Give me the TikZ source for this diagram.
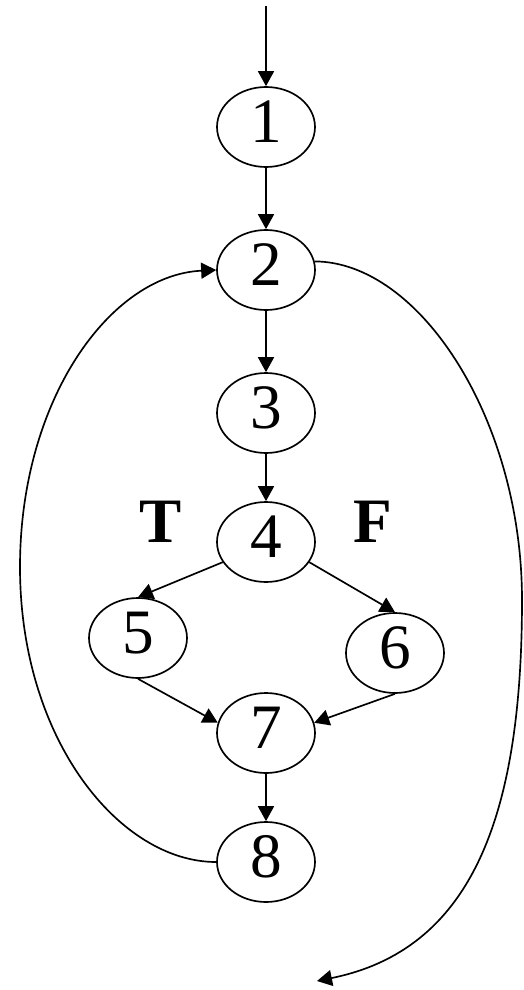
\documentclass[tikz,border=0pt]{standalone}
\usepackage{fontspec}
\setmainfont{Liberation Serif}
\usetikzlibrary{arrows.meta,shapes.geometric}

\begin{document}
\begin{tikzpicture}[>={Triangle[length=0.3cm,width=0.32cm]},line width=0.95pt,
  blk/.style={draw,ellipse,minimum width=1.96cm,minimum height=1.6cm,inner sep=0pt,
    font=\fontsize{36}{36}\selectfont,text height=0.86cm,text depth=0.24cm},
  lbl/.style={font=\fontsize{36}{36}\selectfont\bfseries,inner sep=0pt}]
  \useasboundingbox (0,0) rectangle (10.48,-19.8);
  % blocks
  \coordinate (entry) at (5.32,-0.12);
  \node[blk] (n1) at (5.32,-2.54) {1};
  \node[blk] (n2) at (5.32,-5.40) {2};
  \node[blk] (n3) at (5.32,-8.26) {3};
  \node[blk] (n4) at (5.32,-10.84) {4};
  \node[blk] (n5) at (2.76,-12.76) {5};
  \node[blk] (n6) at (7.90,-13.06) {6};
  \node[blk] (n7) at (5.32,-14.66) {7};
  \node[blk] (n8) at (5.32,-17.24) {8};
  \coordinate (exit) at (6.34,-19.62);
  \node[lbl,anchor=base east] (tl) at ([xshift=-0.68cm]n4.west) {T};
  \node[lbl,anchor=base west] (fl) at ([xshift=0.74cm]n4.east) {F};
  % edges
  \draw[->] (entry) -- (n1);
  \draw[->] (n1) -- (n2);
  \draw[->] (n2) -- (n3);
  \draw[->] (n3) -- (n4);
  \draw[->] (n4.-155) -- (n5.north);
  \draw[->] (n4.-25) -- (n6.north);
  \draw[->] (n5.south) -- (n7.168);
  \draw[->] (n6.south) -- (n7.12);
  \draw[->] (n7) -- (n8);
  % loop back and exit
  \draw[->] (n8.west) .. controls (2.4,-17.24) and (0.4,-14.8) .. (0.4,-11.34)
    .. controls (0.4,-8.0) and (2.2,-5.5) .. (n2.west);
  \draw[->] (n2.10) .. controls (8.4,-5.24) and (10.44,-8.4) .. (10.44,-12)
    .. controls (10.44,-16.4) and (9.4,-19.0) .. (exit);
\end{tikzpicture}
\end{document}
